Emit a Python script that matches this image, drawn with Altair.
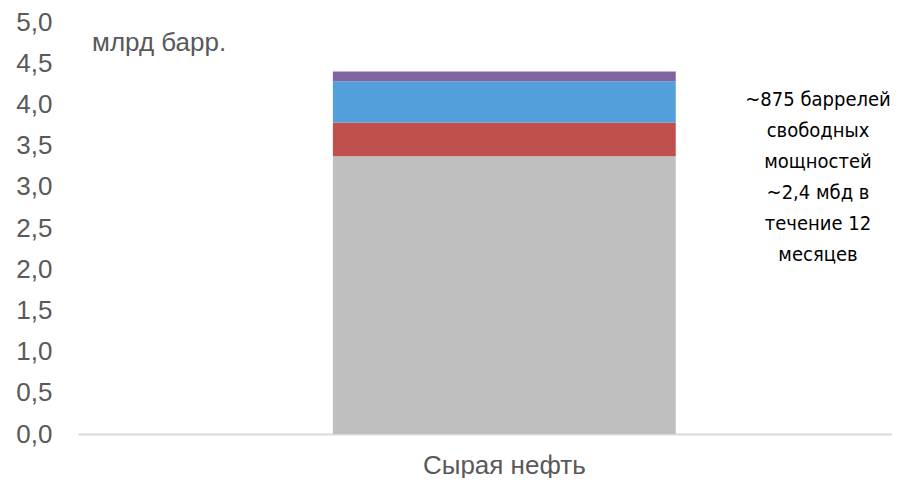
import altair as alt
import pandas as pd

category = ["Сырая нефть"]
segments = ["Запасы 1", "Запасы 2", "Запасы 3", "Запасы 4"]
values = [3.37, 0.41, 0.50, 0.12]
colors = ["#bfbfbf", "#c0504d", "#529fdb", "#8064a2"]
y_ticks = [0, 0.5, 1, 1.5, 2, 2.5, 3, 3.5, 4, 4.5, 5]
unit_label = "млрд барр."
note_lines = ["~875 баррелей", "свободных", "мощностей", "~2,4 мбд в", "течение 12", "месяцев"]

df = pd.DataFrame({
    "cat": category * len(segments),
    "seg": segments,
    "val": values,
    "ord": list(range(len(segments))),
})

W, H = 814, 412

bars = alt.Chart(df).mark_bar().encode(
    x=alt.X("cat:N", title=None,
            scale=alt.Scale(paddingInner=0, paddingOuter=0.687, align=0.541),
            axis=alt.Axis(labelAngle=0, labelFontSize=26, labelColor="#595959",
                          labelFont="Liberation Sans", labelPadding=18,
                          ticks=False, domainColor="#d9d9d9", domainWidth=2)),
    y=alt.Y("sum(val):Q", title=None,
            scale=alt.Scale(domain=[0, 5], nice=False),
            axis=alt.Axis(values=y_ticks, grid=False, domain=False, ticks=False,
                          labelFontSize=26, labelColor="#595959", labelFont="Liberation Sans",
                          labelPadding=26,
                          labelExpr="replace(format(datum.value, '.1f'), '.', ',')")),
    color=alt.Color("seg:N", scale=alt.Scale(domain=segments, range=colors), legend=None),
    order=alt.Order("ord:Q"),
)

unit = alt.Chart(pd.DataFrame({"t": [unit_label]})).mark_text(
    align="left", baseline="middle", fontSize=26, color="#595959", font="Liberation Sans"
).encode(text="t:N", x=alt.value(14), y=alt.value(21))

note = alt.Chart(pd.DataFrame({"t": [note_lines]})).mark_text(
    align="center", baseline="middle", fontSize=20, lineHeight=31, color="#000000",
    font="DejaVu Sans Condensed"
).encode(text="t", x=alt.value(740), y=alt.value(78))

chart = alt.layer(bars, unit, note).properties(
    width=W, height=H,
    autosize=alt.AutoSizeParams(type="none"),
    padding={"left": 70, "top": 14, "right": 0, "bottom": 44},
).configure_view(stroke=None)

chart.save("out.html", embed_options={"renderer": "svg", "actions": False})
